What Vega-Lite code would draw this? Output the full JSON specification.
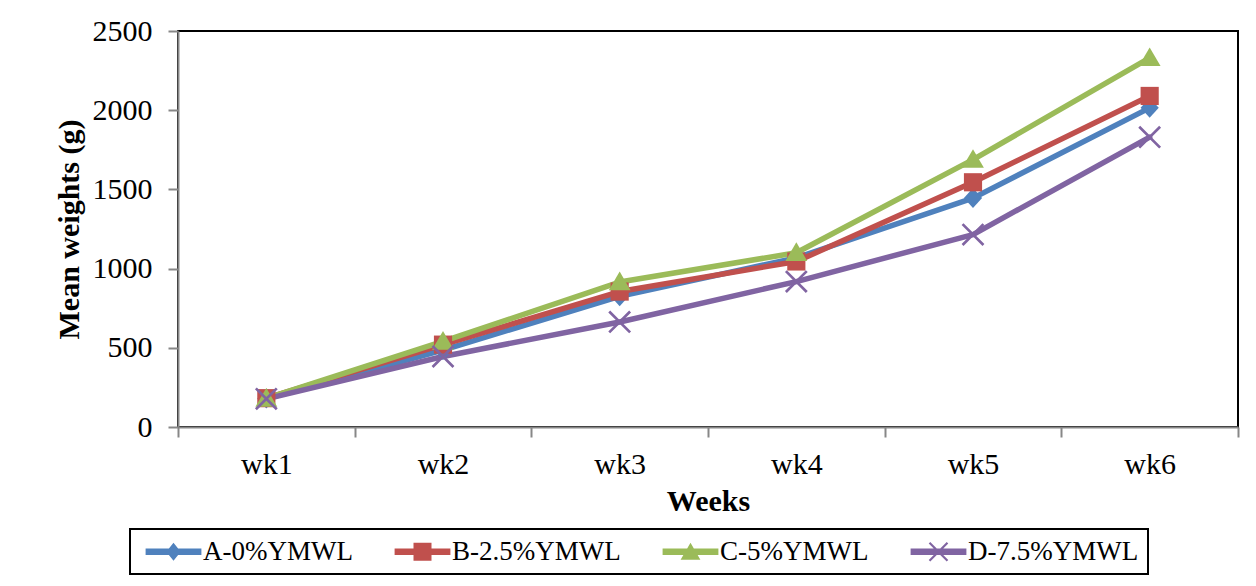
{
  "$schema": "https://vega.github.io/schema/vega-lite/v6.json",
  "width": 1060,
  "height": 396,
  "autosize": "none",
  "padding": {"left": 178, "top": 31, "right": 18, "bottom": 159},
  "background": "white",
  "config": {
    "font": "Liberation Serif",
    "view": {"stroke": "black", "strokeWidth": 2},
    "axis": {
      "grid": false,
      "domainColor": "#878787",
      "domainWidth": 2,
      "tickColor": "#878787",
      "tickWidth": 2,
      "tickSize": 10,
      "labelColor": "black",
      "titleColor": "black",
      "labelFont": "Liberation Serif",
      "titleFont": "Liberation Serif",
      "labelFontSize": 30,
      "titleFontSize": 30,
      "titleFontWeight": "bold"
    },
    "legend": {
      "title": null,
      "orient": "none",
      "legendX": -48,
      "legendY": 498,
      "direction": "horizontal",
      "columns": 4,
      "strokeColor": "black",
      "padding": 9,
      "symbolSize": 324,
      "symbolStrokeWidth": 0,
      "symbolOffset": 21,
      "labelOffset": 16,
      "labelFontSize": 27,
      "labelFont": "Liberation Serif",
      "labelColor": "black",
      "labelLimit": 400,
      "columnPadding": 35
    }
  },
  "data": {
    "values": [
      {"week": "wk1", "series": "A-0%YMWL", "value": 180},
      {"week": "wk1", "series": "B-2.5%YMWL", "value": 182},
      {"week": "wk1", "series": "C-5%YMWL", "value": 180},
      {"week": "wk1", "series": "D-7.5%YMWL", "value": 178},
      {"week": "wk2", "series": "A-0%YMWL", "value": 486},
      {"week": "wk2", "series": "B-2.5%YMWL", "value": 520},
      {"week": "wk2", "series": "C-5%YMWL", "value": 540},
      {"week": "wk2", "series": "D-7.5%YMWL", "value": 445},
      {"week": "wk3", "series": "A-0%YMWL", "value": 825},
      {"week": "wk3", "series": "B-2.5%YMWL", "value": 855},
      {"week": "wk3", "series": "C-5%YMWL", "value": 915},
      {"week": "wk3", "series": "D-7.5%YMWL", "value": 663},
      {"week": "wk4", "series": "A-0%YMWL", "value": 1068},
      {"week": "wk4", "series": "B-2.5%YMWL", "value": 1045},
      {"week": "wk4", "series": "C-5%YMWL", "value": 1100},
      {"week": "wk4", "series": "D-7.5%YMWL", "value": 918},
      {"week": "wk5", "series": "A-0%YMWL", "value": 1445},
      {"week": "wk5", "series": "B-2.5%YMWL", "value": 1545},
      {"week": "wk5", "series": "C-5%YMWL", "value": 1688},
      {"week": "wk5", "series": "D-7.5%YMWL", "value": 1215},
      {"week": "wk6", "series": "A-0%YMWL", "value": 2015},
      {"week": "wk6", "series": "B-2.5%YMWL", "value": 2090},
      {"week": "wk6", "series": "C-5%YMWL", "value": 2330},
      {"week": "wk6", "series": "D-7.5%YMWL", "value": 1830}
    ]
  },
  "encoding": {
    "x": {
      "field": "week",
      "type": "ordinal",
      "scale": {"type": "band", "paddingInner": 0, "paddingOuter": 0},
      "bandPosition": 0.5,
      "axis": {"title": "Weeks", "labelAngle": 0, "tickBand": "extent", "labelPadding": 12, "titlePadding": 7}
    },
    "y": {
      "field": "value",
      "type": "quantitative",
      "scale": {"domain": [0, 2500], "nice": false},
      "axis": {"title": "Mean weights (g)", "format": "d", "values": [0, 500, 1000, 1500, 2000, 2500], "labelPadding": 16, "titlePadding": 8}
    }
  },
  "layer": [
    {
      "mark": {"type": "line", "strokeWidth": 5.5, "strokeCap": "round", "strokeJoin": "round"},
      "encoding": {
        "color": {
          "field": "series",
          "type": "nominal",
          "scale": {
            "domain": ["A-0%YMWL", "B-2.5%YMWL", "C-5%YMWL", "D-7.5%YMWL"],
            "range": ["#4F81BD", "#C0504D", "#9BBB59", "#8064A2"]
          },
          "legend": {"encode": {"legend": {"update": {"strokeWidth": {"value": 2}}}, "symbols": {"update": {"strokeWidth": {"value": 0}, "opacity": {"value": 1}}}}}
        }
      }
    },
    {
      "transform": [{"filter": "datum.series === 'A-0%YMWL'"}],
      "mark": {"type": "point", "filled": true, "opacity": 1, "strokeWidth": 0, "size": 330, "color": "#4F81BD", "shape": "M0,-1.1L1,0L0,1.1L-1,0Z"}
    },
    {
      "transform": [{"filter": "datum.series === 'B-2.5%YMWL'"}],
      "mark": {"type": "point", "filled": true, "opacity": 1, "strokeWidth": 0, "size": 330, "color": "#C0504D", "shape": "M-1,-1L1,-1L1,1L-1,1Z"}
    },
    {
      "transform": [{"filter": "datum.series === 'C-5%YMWL'"}],
      "mark": {"type": "point", "filled": true, "opacity": 1, "strokeWidth": 0, "size": 330, "color": "#9BBB59", "shape": "M0,-1.15L1.2,0.9L-1.2,0.9Z"}
    },
    {
      "transform": [{"filter": "datum.series === 'D-7.5%YMWL'"}],
      "mark": {"type": "point", "filled": true, "opacity": 1, "strokeWidth": 0, "size": 330, "color": "#8064A2", "shape": "M-1.046,-1.254L1.254,1.046L1.046,1.254L-1.254,-1.046ZM-1.254,1.046L1.046,-1.254L1.254,-1.046L-1.046,1.254Z"}
    },
    {
      "transform": [{"filter": "datum.value < 0"}],
      "mark": {"type": "point", "filled": true, "opacity": 1, "strokeWidth": 0},
      "encoding": {
        "color": {
          "field": "series",
          "type": "nominal",
          "scale": {
            "domain": ["A-0%YMWL", "B-2.5%YMWL", "C-5%YMWL", "D-7.5%YMWL"],
            "range": ["#4F81BD", "#C0504D", "#9BBB59", "#8064A2"]
          },
          "legend": {"encode": {"legend": {"update": {"strokeWidth": {"value": 2}}}, "symbols": {"update": {"strokeWidth": {"value": 0}, "opacity": {"value": 1}}}}}
        },
        "shape": {
          "field": "series",
          "type": "nominal",
          "scale": {
            "domain": ["A-0%YMWL", "B-2.5%YMWL", "C-5%YMWL", "D-7.5%YMWL"],
            "range": [
              "M-3.1,-0.36L3.1,-0.36L3.1,0.36L-3.1,0.36ZM0,-1L0.8,0L0,1L-0.8,0Z",
              "M-3.1,-0.36L3.1,-0.36L3.1,0.36L-3.1,0.36ZM-1,-1L1,-1L1,1L-1,1Z",
              "M-3.1,-0.36L3.1,-0.36L3.1,0.36L-3.1,0.36ZM0,-1L1.1,0.9L-1.1,0.9Z",
              "M-3.1,-0.36L3.1,-0.36L3.1,0.36L-3.1,0.36ZM-0.915,-1.085L1.085,0.915L0.915,1.085L-1.085,-0.915ZM-1.085,0.915L0.915,-1.085L1.085,-0.915L-0.915,1.085Z"
            ]
          },
          "legend": {"encode": {"legend": {"update": {"strokeWidth": {"value": 2}}}, "symbols": {"update": {"strokeWidth": {"value": 0}, "opacity": {"value": 1}}}}}
        }
      }
    }
  ]
}
